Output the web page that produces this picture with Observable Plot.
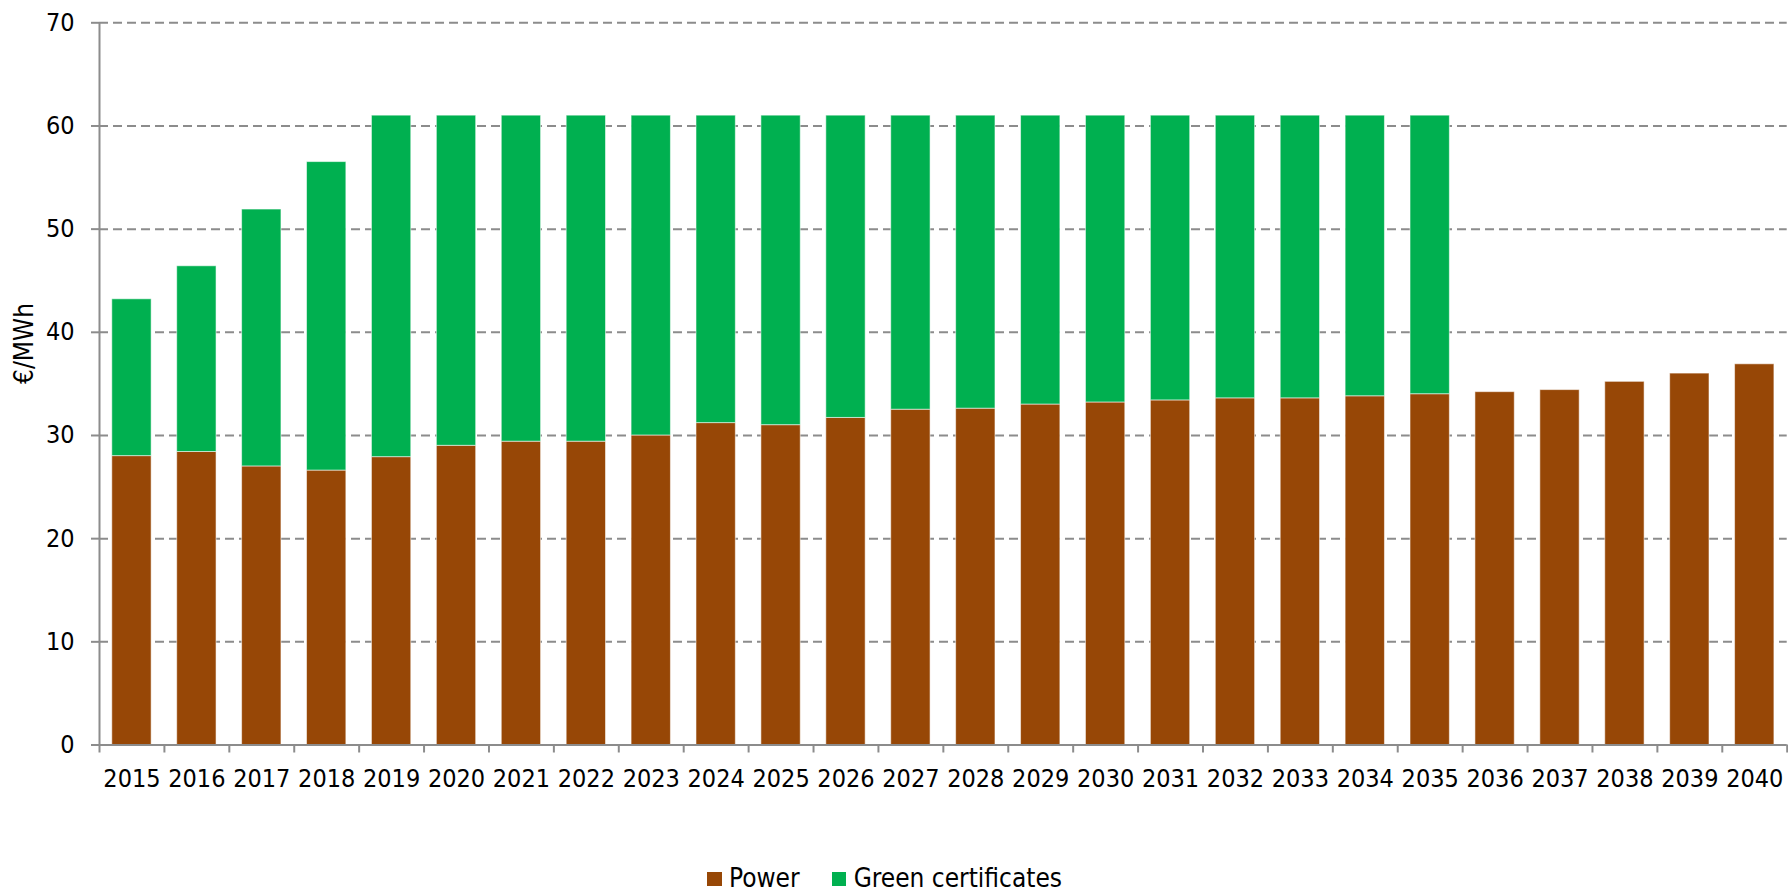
<!DOCTYPE html>
<html>
<head>
<meta charset="utf-8">
<script src="https://cdn.jsdelivr.net/npm/d3@7"></script>
<script src="https://cdn.jsdelivr.net/npm/@observablehq/plot@0.6"></script>
<style>
  html, body { margin: 0; padding: 0; background: #fff; }
  #wrap { position: relative; width: 1788px; height: 889px; font-family: "DejaVu Sans Condensed", "DejaVu Sans", sans-serif; }
  #legend { position: absolute; left: 707px; top: 864.5px; display: flex; align-items: center; font-size: 26px; line-height: 26px; color: #000; }
  .item { display: flex; align-items: center; margin-right: 32px; }
  .sw { width: 14.5px; height: 14.5px; margin-right: 7.5px; margin-top: 3px; }
</style>
</head>
<body>
<div id="wrap">
  <div id="chart"></div>
  <div id="legend"></div>
</div>
<script>
const years = ["2015","2016","2017","2018","2019","2020","2021","2022","2023","2024","2025","2026","2027","2028","2029","2030","2031","2032","2033","2034","2035","2036","2037","2038","2039","2040"];
const power = [28.0,28.4,27.0,26.6,27.9,29.0,29.4,29.4,30.0,31.2,31.0,31.7,32.5,32.6,33.0,33.2,33.4,33.6,33.6,33.8,34.0,34.2,34.4,35.2,36.0,36.9];
const greenCertificates = [15.2,18.0,24.9,29.9,33.1,32.0,31.6,31.6,31.0,29.8,30.0,29.3,28.5,28.4,28.0,27.8,27.6,27.4,27.4,27.2,27.0,null,null,null,null,null];
const seriesNames = ["Power", "Green certificates"];
const seriesColors = ["#974706", "#00b050"];
const yTicks = [0,10,20,30,40,50,60,70];
const yLabel = "€/MWh";

const rows = [];
years.forEach((yr, i) => {
  rows.push({year: yr, series: seriesNames[0], value: power[i]});
  if (greenCertificates[i] != null) rows.push({year: yr, series: seriesNames[1], value: greenCertificates[i]});
});

const W = 1788, H = 850;
const ml = 99, mr = 1.3, mt = 22.3, mb = H - 744.5;
const step = (W - ml - mr) / years.length;
const axisColor = "#8c8c8c";
const font = '"DejaVu Sans Condensed", "DejaVu Sans", sans-serif';

const chart = Plot.plot({
  width: W, height: H,
  marginLeft: ml, marginRight: mr, marginTop: mt, marginBottom: mb,
  style: {fontFamily: font, fontSize: "25px", color: "#000", background: "#fff", overflow: "visible"},
  x: {type: "band", domain: years, paddingInner: 0.394, paddingOuter: 0.197, round: false, label: null},
  y: {domain: [0, 70], label: null},
  color: {domain: seriesNames, range: seriesColors},
  marks: [
    Plot.gridY(yTicks.filter(t => t > 0), {stroke: axisColor, strokeOpacity: 1, strokeWidth: 2, strokeDasharray: "9,5"}),
    Plot.barY(rows, {x: "year", y: "value", fill: "series", order: seriesNames, stroke: "#ffffff", strokeOpacity: 0.55, strokeWidth: 1}),
    Plot.ruleY([0], {stroke: axisColor, strokeWidth: 2}),
    Plot.ruleX([years[0]], {x: d => d, dx: -step / 2, y1: 0, y2: 70, stroke: axisColor, strokeWidth: 2}),
    Plot.axisY(yTicks, {tickSize: 8, tickPadding: 17, stroke: axisColor, strokeWidth: 2, fill: "#000", label: null}),
    Plot.axisX({tickSize: 0, tickPadding: 24, fill: "#000", label: null}),
    Plot.axisX(years, {tickSize: 8, dx: -step / 2, stroke: axisColor, strokeWidth: 2, fill: "none", label: null}),
    Plot.axisX([years[years.length - 1]], {tickSize: 8, dx: step / 2, stroke: axisColor, strokeWidth: 2, fill: "none", label: null}),
    Plot.text([yLabel], {frameAnchor: "left", rotate: -90, dx: -75, text: d => d, fill: "#000", fontSize: 26})
  ]
});
document.getElementById("chart").appendChild(chart);

const legend = document.getElementById("legend");
seriesNames.forEach((name, i) => {
  const it = document.createElement("div");
  it.className = "item";
  const sw = document.createElement("div");
  sw.className = "sw";
  sw.style.background = seriesColors[i];
  const tx = document.createElement("span");
  tx.textContent = name;
  it.appendChild(sw);
  it.appendChild(tx);
  legend.appendChild(it);
});
</script>
</body>
</html>
